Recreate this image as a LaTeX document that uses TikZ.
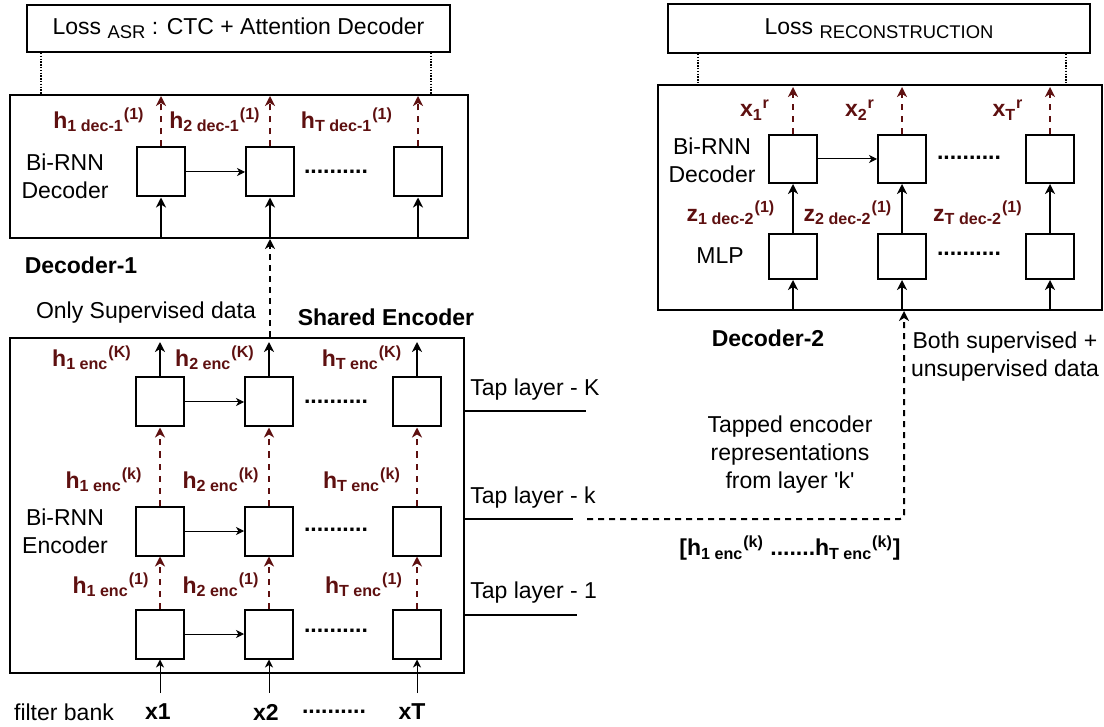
\documentclass[tikz,border=0pt]{standalone}
\usepackage{fontspec}
\setmainfont{Liberation Sans}
\usetikzlibrary{arrows.meta, positioning, calc}
\definecolor{hcolor}{HTML}{5E1010}
\newcommand{\basefont}{\fontsize{11.5}{14}\selectfont}
\newcommand{\subfont}{\fontsize{9.2}{11}\selectfont}

\begin{document}
\begin{tikzpicture}[x=0.5pt, y=-0.5pt, font=\basefont,
  panel/.style={draw, line width=1pt, inner sep=0pt},
  cell/.style={draw, line width=1pt, minimum width=24pt, minimum height=24.5pt, inner sep=0pt},
  hlbl/.style={font=\basefont\bfseries, text=hcolor, inner sep=0pt},
  bold/.style={font=\basefont\bfseries},
  gap/.style={font=\basefont\bfseries, inner sep=0pt},
  arr/.style={-{Stealth[length=5pt, width=5pt, inset=1.5pt]}, line width=0.9pt},
  harr/.style={-{Stealth[length=4pt, width=4pt, inset=1.2pt]}, line width=0.5pt},
  outarr/.style={arr, hcolor, line width=1.2pt, dash pattern=on 3pt off 3pt},
  feed/.style={arr, line width=1pt, dash pattern=on 3pt off 2.5pt},
  dotline/.style={line width=0.7pt, dash pattern=on 0.7pt off 0.7pt},
  tapline/.style={line width=0.9pt},
]
  \useasboundingbox (0,0) rectangle (1104,727);

  % loss boxes and panels
  \node[panel, minimum width=211.5pt, minimum height=23.5pt] (lossasr) at (238.5,28.5)
    {Loss \raisebox{-0.35ex}{\subfont ASR} : CTC + Attention Decoder};
  \node[panel, minimum width=229pt, minimum height=71.5pt] (dec1) at (239,166.5) {};
  \node[panel, minimum width=227pt, minimum height=167.5pt] (enc) at (237,505.5) {};
  \node[panel, minimum width=211pt, minimum height=24.5pt] (lossrec) at (879,28.5)
    {Loss \raisebox{-0.35ex}{\subfont RECONSTRUCTION}};
  \node[panel, minimum width=222pt, minimum height=112.5pt] (dec2) at (880,197.5) {};

  \draw[dotline] ([xshift=7.5pt]lossasr.south west) -- ([xshift=7.5pt]lossasr.south west |- dec1.north);
  \draw[dotline] ([xshift=-10pt]lossasr.south east) -- ([xshift=-10pt]lossasr.south east |- dec1.north);
  \draw[dotline] ([xshift=15.5pt]lossrec.south west) -- ([xshift=15.5pt]lossrec.south west |- dec2.north);
  \draw[dotline] ([xshift=-12.5pt]lossrec.south east) -- ([xshift=-12.5pt]lossrec.south east |- dec2.north);

  % decoder-1
  \node[cell] (d1c1) at (161,172) {};
  \node[cell, right=29.5pt of d1c1] (d1c2) {};
  \node[cell, right=49pt of d1c2] (d1c3) {};
  \node[gap] (d1gap) at (336,172) {..........};
  \node[align=center] (dec1txt) at (65,176) {Bi-RNN\\Decoder};
  \node[hlbl] (hd1) at (99,120) {h\textsubscript{1 dec-1}\textsuperscript{(1)}};
  \node[hlbl] (hd2) at (215,120) {h\textsubscript{2 dec-1}\textsuperscript{(1)}};
  \node[hlbl] (hdT) at (347,120) {h\textsubscript{T dec-1}\textsuperscript{(1)}};

  \draw[harr] (d1c1) -- (d1c2);
  \draw[arr] (d1c1 |- dec1.south) -- (d1c1);
  \draw[arr] (d1c2 |- dec1.south) -- (d1c2);
  \draw[arr] (d1c3 |- dec1.south) -- (d1c3);
  \draw[outarr, shorten >=1pt] (d1c1) -- (d1c1 |- dec1.north);
  \draw[outarr, shorten >=1pt] (d1c2) -- (d1c2 |- dec1.north);
  \draw[outarr, shorten >=1pt] (d1c3) -- (d1c3 |- dec1.north);

  \node[bold] (dec1name) at (81,265) {Decoder-1};
  \node (onlysup) at (146,313) {Only Supervised data};
  \node[bold] (encname) at (386,317) {Shared Encoder};
  \draw[feed] (d1c2 |- enc.north) -- (d1c2 |- dec1.south);

  % shared encoder
  \node[cell] (eK1) at (160,402) {};
  \node[cell, right=29.5pt of eK1] (eK2) {};
  \node[cell, right=49pt of eK2] (eK3) {};
  \node[cell, below=39pt of eK1] (ek1) {};
  \node[cell, right=29.5pt of ek1] (ek2) {};
  \node[cell, right=49pt of ek2] (ek3) {};
  \node[cell, below=26pt of ek1] (e11) {};
  \node[cell, right=29.5pt of e11] (e12) {};
  \node[cell, right=49pt of e12] (e13) {};
  \node[gap] (eKgap) at (336,402) {..........};
  \node[gap] (ekgap) at (336,530) {..........};
  \node[gap] (e1gap) at (336,631) {..........};
  \node[align=center] (enctxt) at (65,531) {Bi-RNN\\Encoder};

  \node[hlbl] (hK1) at (92,358) {h\textsubscript{1 enc}\textsuperscript{(K)}};
  \node[hlbl] (hK2) at (215,358) {h\textsubscript{2 enc}\textsuperscript{(K)}};
  \node[hlbl] (hK3) at (362,358) {h\textsubscript{T enc}\textsuperscript{(K)}};
  \node[hlbl] (hk1) at (104,480) {h\textsubscript{1 enc}\textsuperscript{(k)}};
  \node[hlbl] (hk2) at (221,480) {h\textsubscript{2 enc}\textsuperscript{(k)}};
  \node[hlbl] (hk3) at (362,480) {h\textsubscript{T enc}\textsuperscript{(k)}};
  \node[hlbl] (h11) at (111,585) {h\textsubscript{1 enc}\textsuperscript{(1)}};
  \node[hlbl] (h12) at (221,585) {h\textsubscript{2 enc}\textsuperscript{(1)}};
  \node[hlbl] (h13) at (364,585) {h\textsubscript{T enc}\textsuperscript{(1)}};

  \draw[harr] (eK1) -- (eK2);
  \draw[harr] (ek1) -- (ek2);
  \draw[harr] (e11) -- (e12);
  \draw[arr, shorten >=2.5pt] (eK1) -- (eK1 |- enc.north);
  \draw[arr, shorten >=2.5pt] (eK2) -- (eK2 |- enc.north);
  \draw[arr, shorten >=2.5pt] (eK3) -- (eK3 |- enc.north);
  \draw[outarr] (ek1) -- (eK1);
  \draw[outarr] (ek2) -- (eK2);
  \draw[outarr] (ek3) -- (eK3);
  \draw[outarr] (e11) -- (ek1);
  \draw[outarr] (e12) -- (ek2);
  \draw[outarr] (e13) -- (ek3);

  % inputs
  \node (fbank) at (64,712) {filter bank};
  \node[bold] (x1) at (158,712) {x1};
  \node[bold] (x2) at (266,712) {x2};
  \node[bold] (xT) at (412,712) {xT};
  \node[gap] (xgap) at (334,712) {..........};
  \draw[harr, shorten <=2pt] (e11 |- x1.north) -- (e11);
  \draw[harr, shorten <=2pt] (e12 |- x2.north) -- (e12);
  \draw[harr, shorten <=2pt] (e13 |- xT.north) -- (e13);

  % tap layers
  \coordinate (tapK) at (586,411);
  \coordinate (tapk) at (573,519);
  \coordinate (tap1) at (577,615);
  \draw[tapline] (enc.east |- tapK) -- (tapK);
  \draw[tapline] (enc.east |- tapk) -- (tapk);
  \draw[tapline] (enc.east |- tap1) -- (tap1);
  \node[anchor=west, inner sep=0pt] (tapKtxt) at (470,390) {Tap layer - K};
  \node[anchor=west, inner sep=0pt] (tapktxt) at (470,498) {Tap layer - k};
  \node[anchor=west, inner sep=0pt] (tap1txt) at (470,593) {Tap layer - 1};

  % decoder-2
  \node[cell, minimum height=24pt] (r1) at (793,159) {};
  \node[cell, minimum height=24pt, right=29.5pt of r1] (r2) {};
  \node[cell, minimum height=24pt, right=49pt of r2] (r3) {};
  \node[cell, minimum height=22.5pt, below=24.5pt of r1] (m1) {};
  \node[cell, minimum height=22.5pt, right=29.5pt of m1] (m2) {};
  \node[cell, minimum height=22.5pt, right=49pt of m2] (m3) {};
  \node[gap] (rgap) at (969,158) {..........};
  \node[gap] (mgap) at (969,254) {..........};
  \node[align=center] (dec2txt) at (712,160) {Bi-RNN\\Decoder};
  \node (mlptxt) at (720,256) {MLP};

  \node[hlbl] (xr1) at (755,110) {x\textsubscript{1}\textsuperscript{r}};
  \node[hlbl] (xr2) at (860,110) {x\textsubscript{2}\textsuperscript{r}};
  \node[hlbl] (xr3) at (1008,110) {x\textsubscript{T}\textsuperscript{r}};
  \node[hlbl] (z1) at (731,213) {z\textsubscript{1 dec-2}\textsuperscript{(1)}};
  \node[hlbl] (z2) at (848,213) {z\textsubscript{2 dec-2}\textsuperscript{(1)}};
  \node[hlbl] (z3) at (978,213) {z\textsubscript{T dec-2}\textsuperscript{(1)}};

  \draw[harr] (r1) -- (r2);
  \draw[arr] (m1 |- dec2.south) -- (m1);
  \draw[arr] (m2 |- dec2.south) -- (m2);
  \draw[arr] (m3 |- dec2.south) -- (m3);
  \draw[arr] (m1) -- (r1);
  \draw[arr] (m2) -- (r2);
  \draw[arr] (m3) -- (r3);
  \draw[outarr, shorten >=1.5pt] (r1) -- (r1 |- dec2.north);
  \draw[outarr, shorten >=1.5pt] (r2) -- (r2 |- dec2.north);
  \draw[outarr, shorten >=1.5pt] (r3) -- (r3 |- dec2.north);

  \node[bold] (dec2name) at (768,338) {Decoder-2};
  \node[align=center] (bothtxt) at (1005,357) {Both supervised +\\unsupervised data};
  \node[align=center] (taptxt) at (790,455) {Tapped encoder\\representations\\from layer \textquotesingle k\textquotesingle};
  \node[bold, inner sep=0pt] (tapvec) at (790,548)
    {[h\textsubscript{1 enc}\textsuperscript{(k)} .......h\textsubscript{T enc}\textsuperscript{(k)}]};

  \draw[feed, rounded corners=2pt] ([xshift=7pt]tapk) -| ([xshift=1pt]r2 |- dec2.south);
\end{tikzpicture}
\end{document}
